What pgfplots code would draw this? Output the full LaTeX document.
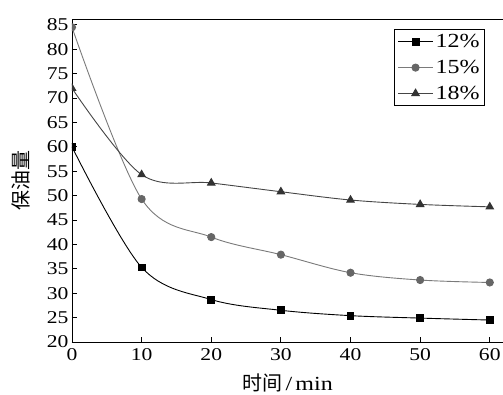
\documentclass[border=0pt]{standalone}
\usepackage{pgfplots}
\pgfplotsset{compat=1.18}
\usepackage{fontspec}
\setmainfont[FakeStretch=1.2]{Liberation Serif}
\newfontfamily\cjk{Noto Sans CJK SC}
\definecolor{cA}{HTML}{000000}
\definecolor{cB}{HTML}{7A7A7A}
\definecolor{cBm}{HTML}{666666}
\definecolor{cC}{HTML}{454545}
\definecolor{cCm}{HTML}{333333}
\begin{document}
\begin{tikzpicture}
\begin{axis}[
  name=ax,
  scale only axis, width=431pt, height=323pt,
  xmin=0, xmax=61.9, ymin=20, ymax=86.2,
  xtick={0,10,...,60}, ytick={20,25,...,85},
  tick align=inside, major tick length=5pt,
  axis x line*=bottom, axis y line*=left,
  axis line style={line width=0.9pt},
  tick style={line width=0.8pt, black},
  /pgf/number format/assume math mode=true,
  ticklabel style={font=\fontsize{18}{18}\selectfont},
  xticklabel style={yshift=-3pt},
  xlabel={{\cjk 时间}\,/\,min},
  ylabel={\cjk 保油量},
  label style={font=\fontsize{20}{20}\selectfont},
  xlabel style={at={(axis description cs:0.5,-0.127)}, anchor=center},
  ylabel style={at={(axis description cs:-0.118,0.5)}, anchor=center},
  clip marker paths=true,
  legend style={at={(0.958,0.969)}, anchor=north east, draw=black, line width=0.8pt,
    font=\fontsize{20}{20}\selectfont, row sep=7pt, inner sep=3pt,
    legend cell align=left},
  legend image code/.code={\draw[mark repeat=2,mark phase=2] plot coordinates {(0pt,0pt) (17.5pt,0pt) (35pt,0pt)};},
]
\addplot[color=cA, line width=0.9pt, smooth, tension=0.55, mark=square*, mark size=3.4pt, mark options={fill=cA, draw=cA}]
  coordinates {(0,60) (10,35.3) (20,28.7) (30,26.5) (40,25.4) (50,24.9) (60,24.5)};
\addlegendentry{12\%}
\addplot[color=cB, line width=0.9pt, smooth, tension=0.55, mark=*, mark size=3.6pt, mark options={fill=cBm, draw=cBm}]
  coordinates {(0,84.5) (10,49.3) (20,41.5) (30,37.9) (40,34.2) (50,32.7) (60,32.2)};
\addlegendentry{15\%}
\addplot[color=cC, line width=0.9pt, smooth, tension=0.55, mark=triangle*, mark size=4.3pt, mark options={fill=cCm, draw=cCm}]
  coordinates {(0,72) (10,54.3) (20,52.6) (30,50.8) (40,49.1) (50,48.2) (60,47.7)};
\addlegendentry{18\%}
\draw[line width=0.9pt] (rel axis cs:0,1) -- (rel axis cs:1,1);
\coordinate (sw) at (rel axis cs:0,0);
\coordinate (ne) at (rel axis cs:1,1);
\end{axis}
\pgfresetboundingbox
\path ([xshift=-72pt,yshift=-52pt]sw) rectangle ([yshift=19pt]ne);
\end{tikzpicture}
\end{document}
